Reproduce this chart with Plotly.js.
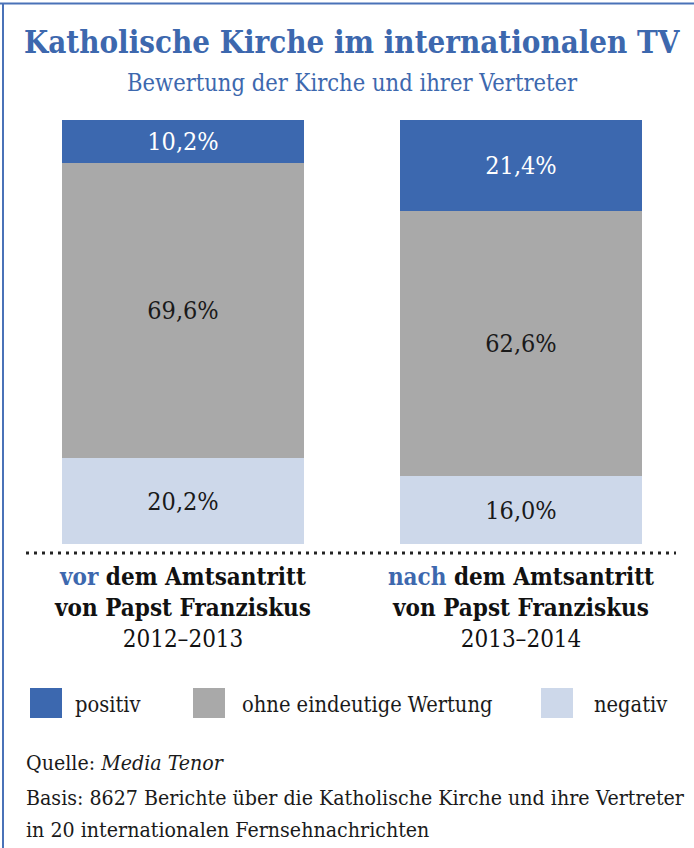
<!DOCTYPE html>
<html><head><meta charset="utf-8">
<script src="https://cdn.plot.ly/plotly-3.0.1.min.js"></script>
<style>html,body{margin:0;padding:0;background:#fff;} #chart{width:694px;height:848px;}</style>
</head><body><div id="chart"></div>
<script>
// ---- data ----
const categories = ['vor', 'nach'];
const tickLabels = [
  "<b><span style='color:#3D68AE'>vor</span> dem Amtsantritt</b><br><b>von Papst Franziskus</b><br>2012–2013",
  "<b><span style='color:#3D68AE'>nach</span> dem Amtsantritt</b><br><b>von Papst Franziskus</b><br>2013–2014"
];
const seriesNames = ['negativ', 'ohne eindeutige Wertung', 'positiv'];
const negativ = [20.2, 16.0];
const ohne = [69.6, 62.6];
const positiv = [10.2, 21.4];
const colors = {positiv: '#3C68AF', ohne: '#A9A9A9', negativ: '#CDD8EA'};
const titleText = 'Katholische Kirche im internationalen TV';
const subtitleText = 'Bewertung der Kirche und ihrer Vertreter';
const notes = ['Quelle: <i>Media Tenor</i>',
  'Basis: 8627 Berichte über die Katholische Kirche und ihre Vertreter',
  'in 20 internationalen Fernsehnachrichten'];

// ---- layout geometry (pixels) ----
const W = 694, H = 848, L = 14, R = 4, T = 120, B = 304;
const PW = W - L - R, PH = H - T - B;
const px = x => (x - L) / PW;
const py = y => (H - B - y) / PH;
const FONT = 'DejaVu Serif Condensed, DejaVu Serif, serif';

function barTrace(name, vals, color, textColor) {
  return {
    type: 'bar', name: name, x: [0, 1], y: vals,
    marker: {color: color, line: {width: 0}},
    width: 0.716,
    text: vals.map(v => v.toFixed(1).replace('.', ',') + '%'),
    textposition: 'inside', insidetextanchor: 'middle', textangle: 0,
    constraintext: 'none',
    textfont: {family: FONT, size: 25, color: textColor},
    hoverinfo: 'skip', showlegend: false
  };
}

const data = [
  barTrace('negativ', negativ, colors.negativ, '#1a1a1a'),
  barTrace('ohne eindeutige Wertung', ohne, colors.ohne, '#1a1a1a'),
  barTrace('positiv', positiv, colors.positiv, '#ffffff')
];

const legendItems = [
  {label: 'positiv', color: colors.positiv, sx: 30, tx: 73},
  {label: 'ohne eindeutige Wertung', color: colors.ohne, sx: 193, tx: 240},
  {label: 'negativ', color: colors.negativ, sx: 541, tx: 592}
];

const shapes = [
  {type: 'line', xref: 'paper', yref: 'paper', x0: px(26), x1: px(676), y0: py(553), y1: py(553),
   line: {color: '#222', width: 3, dash: '3px,5px'}},
  {type: 'line', xref: 'paper', yref: 'paper', x0: px(0), x1: px(694), y0: py(3.5), y1: py(3.5),
   line: {color: '#4A72B8', width: 2}},
  {type: 'line', xref: 'paper', yref: 'paper', x0: px(3), x1: px(3), y0: py(3), y1: py(848),
   line: {color: '#4A72B8', width: 2}}
];
legendItems.forEach(it => shapes.push({
  type: 'rect', xref: 'paper', yref: 'paper', x0: px(it.sx), x1: px(it.sx + 32),
  y0: py(718), y1: py(688), fillcolor: it.color, line: {width: 0}
}));

const annotations = [
  {text: '<b>' + titleText + '</b>', x: px(352), y: py(42), xref: 'paper', yref: 'paper',
   showarrow: false, xanchor: 'center', yanchor: 'middle',
   font: {family: FONT, size: 31, color: '#3D68AE'}},
  {text: subtitleText, x: px(353), y: py(83), xref: 'paper', yref: 'paper',
   showarrow: false, xanchor: 'center', yanchor: 'middle',
   font: {family: FONT, size: 23.5, color: '#3D68AE'}}
];
legendItems.forEach(it => annotations.push({
  text: it.label, x: px(it.tx), y: py(704), xref: 'paper', yref: 'paper',
  showarrow: false, xanchor: 'left', yanchor: 'middle',
  font: {family: FONT, size: 21.7, color: '#1a1a1a'}
}));
[763, 797, 829].forEach((y, i) => annotations.push({
  text: notes[i], x: px(24), y: py(y), xref: 'paper', yref: 'paper',
  showarrow: false, xanchor: 'left', yanchor: 'middle',
  font: {family: FONT, size: 21.2, color: '#1a1a1a'}
}));

const layout = {
  width: W, height: H,
  margin: {l: L, r: R, t: T, b: B, pad: 0},
  paper_bgcolor: '#fff', plot_bgcolor: '#fff',
  barmode: 'stack', separators: ',.',
  showlegend: false,
  xaxis: {range: [-0.5, 1.5], tickvals: [0, 1], ticktext: tickLabels,
          showgrid: false, zeroline: false, showline: false, ticks: '',
          ticklabelstandoff: 16,
          tickfont: {family: FONT, size: 24, color: '#111'}, fixedrange: true},
  yaxis: {range: [0, 100], visible: false, fixedrange: true},
  shapes: shapes, annotations: annotations
};

Plotly.newPlot('chart', data, layout, {displayModeBar: false, staticPlot: true});
</script></body></html>
